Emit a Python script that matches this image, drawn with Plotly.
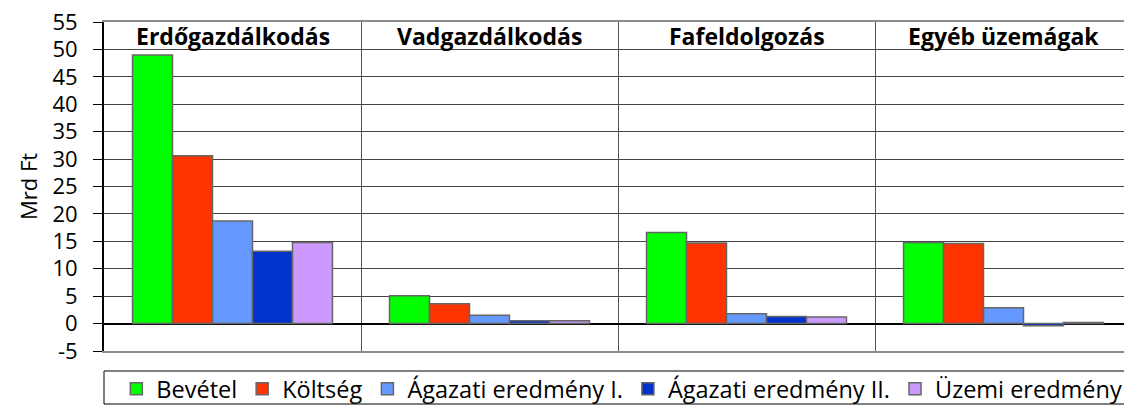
import plotly.graph_objects as go

categories = ["Erdőgazdálkodás", "Vadgazdálkodás", "Fafeldolgozás", "Egyéb üzemágak"]
series_names = ["Bevétel", "Költség", "Ágazati eredmény I.", "Ágazati eredmény II.", "Üzemi eredmény"]
bevetel = [49.0, 5.1, 16.6, 14.8]
koltseg = [30.6, 3.6, 14.7, 14.6]
agazati_1 = [18.7, 1.5, 1.8, 2.9]
agazati_2 = [13.2, 0.5, 1.3, -0.4]
uzemi = [14.8, 0.5, 1.2, 0.2]
series_values = [bevetel, koltseg, agazati_1, agazati_2, uzemi]
colors = ["#00FF00", "#FF3300", "#6699FF", "#0033CC", "#CC99FF"]
y_ticks = list(range(-5, 60, 5))
y_tick_labels = [str(v) for v in y_ticks]

FONT = "Open Sans"

# page body has an 8px default margin: figure is sized to fit inside the window
W, H = 1124, 397
PLOT_H = 329

fig = go.Figure()
for name, vals, col in zip(series_names, series_values, colors):
    fig.add_trace(go.Bar(
        x=categories, y=vals, name=name,
        marker=dict(color=col, line=dict(color="#666666", width=1.5)),
    ))

for cat in categories:
    fig.add_annotation(x=cat, y=52.5, xref="x", yref="y", text="<b>%s</b>" % cat,
                       showarrow=False, font=dict(family=FONT, size=23, color="black"))

fig.add_shape(type="rect", xref="paper", yref="paper",
              x0=0.0, x1=1.0, y0=-53 / PLOT_H, y1=-20 / PLOT_H,
              line=dict(color="black", width=1), fillcolor="rgba(0,0,0,0)")

fig.update_layout(
    width=W, height=H, autosize=False,
    margin=dict(l=96, r=0, t=14, b=54, autoexpand=False),
    plot_bgcolor="white", paper_bgcolor="white",
    barmode="group", bargap=0.222, bargroupgap=0,
    font=dict(family=FONT, size=22, color="black"),
    showlegend=True,
    legend=dict(orientation="h", x=0.012, xanchor="left", y=-16 / PLOT_H, yanchor="top",
                font=dict(family=FONT, size=23.5, color="black"),
                bgcolor="rgba(0,0,0,0)", itemwidth=30, traceorder="normal"),
    xaxis=dict(showticklabels=False, tickson="boundaries", showgrid=True,
               gridcolor="#555555", gridwidth=1, ticks="", automargin=False,
               showline=True, linecolor="#8c8c8c", linewidth=2, mirror=True),
    yaxis=dict(range=[-5, 55.02], tickvals=y_ticks, ticktext=y_tick_labels,
               ticks="outside", ticklen=9, automargin=False, ticklabeloverflow="allow",
               tickcolor="black", tickwidth=1, showline=True, linecolor="black",
               linewidth=2, showgrid=True, gridcolor="#444444", gridwidth=1,
               zeroline=True, zerolinecolor="black", zerolinewidth=1.5,
               ticklabelstandoff=11,
               tickfont=dict(family=FONT, size=22, color="black"),
               title=dict(text="Mrd Ft", font=dict(family=FONT, size=22, color="black"), standoff=9)),
)

fig.write_html("out.html")
